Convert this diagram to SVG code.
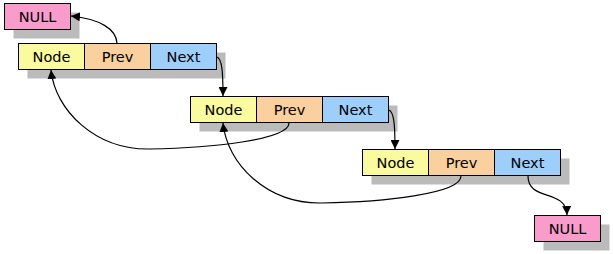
<svg xmlns="http://www.w3.org/2000/svg" width="613" height="254" viewBox="0 0 613 254">
<defs>
<style>
.sh{fill:#bbbbbb;}
.c{stroke:#000;stroke-width:1;}
.node{fill:#fafa9e;}
.prev{fill:#fad09e;}
.next{fill:#9ecefa;}
.null{fill:#f99ccc;}
text{font-family:"DejaVu Sans",Verdana,sans-serif;font-size:14.5px;fill:#000;text-anchor:middle;dominant-baseline:central;}
.conn path{fill:none;stroke:#000;stroke-width:1.2;marker-end:url(#ah);}
</style>
<marker id="ah" viewBox="0 0 10 10" refX="10" refY="5" markerWidth="9" markerHeight="9" markerUnits="userSpaceOnUse" orient="auto">
<path d="M0,0 L10,5 L0,10 z" fill="#000"/>
</marker>
</defs>
<rect width="613" height="254" fill="#fff"/>
<g id="null1">
<rect class="sh" x="13.5" y="12.5" width="66" height="26"/>
<rect class="c null" x="4.5" y="3.5" width="66" height="26"/>
<text x="37.5" y="17">NULL</text>
</g>
<g id="node1">
<rect class="sh" x="27.5" y="52.5" width="198" height="26"/>
<rect class="c node" x="18.5" y="43.5" width="66" height="26"/>
<rect class="c prev" x="84.5" y="43.5" width="66" height="26"/>
<rect class="c next" x="150.5" y="43.5" width="66" height="26"/>
<text x="51.5" y="57">Node</text>
<text x="117.5" y="57">Prev</text>
<text x="183.5" y="57">Next</text>
</g>
<g id="node2">
<rect class="sh" x="199.5" y="105.5" width="198" height="26"/>
<rect class="c node" x="190.5" y="96.5" width="66" height="26"/>
<rect class="c prev" x="256.5" y="96.5" width="66" height="26"/>
<rect class="c next" x="322.5" y="96.5" width="66" height="26"/>
<text x="223.5" y="110">Node</text>
<text x="289.5" y="110">Prev</text>
<text x="355.5" y="110">Next</text>
</g>
<g id="node3">
<rect class="sh" x="371.5" y="158.5" width="198" height="26"/>
<rect class="c node" x="362.5" y="149.5" width="66" height="26"/>
<rect class="c prev" x="428.5" y="149.5" width="66" height="26"/>
<rect class="c next" x="494.5" y="149.5" width="66" height="26"/>
<text x="395.5" y="163">Node</text>
<text x="461.5" y="163">Prev</text>
<text x="527.5" y="163">Next</text>
</g>
<g id="null2">
<rect class="sh" x="543.5" y="224.5" width="66" height="26"/>
<rect class="c null" x="534.5" y="215.5" width="66" height="26"/>
<text x="567.5" y="229">NULL</text>
</g>
<g class="conn" id="connectors">
<path d="M117,43 C116,29 100,19 71,16"/>
<path d="M217,57 C222,59 223,72 223,96"/>
<path d="M289,123 C289,140 210,148 150,149 C95,150 55,110 51,70"/>
<path d="M389,110 C394,112 395,125 395,149"/>
<path d="M461,176 C461,194 382,202 322,203 C267,204 227,164 223,123"/>
<path d="M528,176 C528,202 566,188 567,215"/>
</g>
</svg>
